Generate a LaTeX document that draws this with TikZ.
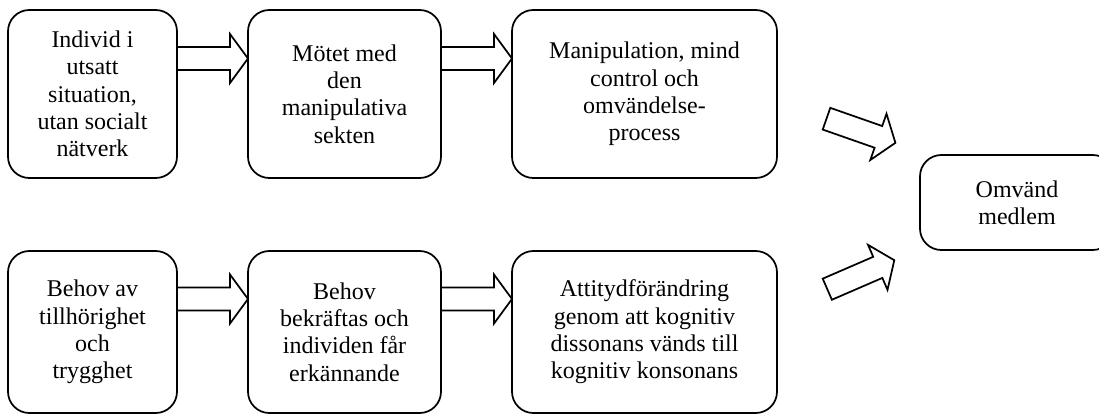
\documentclass[tikz,border=0pt]{standalone}
\usepackage{fontspec}
\setmainfont{Liberation Serif}
\usetikzlibrary{calc}
\tikzset{
  box/.style 2 args={draw, line width=1.3pt, rounded corners=16pt, inner sep=0pt, outer sep=0pt,
    align=center, minimum width=#1*0.75pt, minimum height=#2*0.75pt,
    font=\fontsize{18}{20.5}\selectfont},
  blk/.style={draw, fill=white, line width=1.3pt, line join=miter},
  blkarrow/.pic={\draw[blk] (0,-11.5) -- (55,-11.5) -- (55,-24.5) -- (73,0) -- (55,24.5) -- (55,11.5) -- (0,11.5) -- cycle;}
}
\newcommand\myblkarrow[3]{%
  \draw[blk] ($(#1.east)+(0,#3-11.5)$) -- ($(#2.west)+(-18,#3-11.5)$) -- ($(#2.west)+(-18,#3-24.5)$)
    -- ($(#2.west)+(0,#3)$) -- ($(#2.west)+(-18,#3+24.5)$) -- ($(#2.west)+(-18,#3+11.5)$)
    -- ($(#1.east)+(0,#3+11.5)$) -- cycle;}
\begin{document}
\begin{tikzpicture}[x=0.75pt, y=-0.75pt]
\useasboundingbox (0,0) rectangle (1099,415);
\clip (0,0) rectangle (1099,415);
% top row
\node[box={169}{168}] (b1) at (92.5,94) {Individ i\\utsatt\\situation,\\utan socialt\\nätverk};
\node[box={193}{168}] (b2) at (344.5,94) {Mötet med\\den\\manipulativa\\sekten};
\node[box={265}{168}] (b3) at (644.5,94) {Manipulation, mind\\control och\\omvändelse-\\process};
% bottom row
\node[box={169}{162}] (c1) at (92.5,332) {Behov av\\tillhörighet\\och\\trygghet};
\node[box={193}{162}] (c2) at (344.5,332) {Behov\\bekräftas och\\individen får\\erkännande};
\node[box={265}{162}] (c3) at (644.5,332) {Attitydförändring\\genom att kognitiv\\dissonans vänds till\\kognitiv konsonans};
% result
\node[box={194}{95}] (d) at (1017,202.5) {Omvänd\\medlem};
% horizontal block arrows
\myblkarrow{b1}{b2}{-35.5}
\myblkarrow{b2}{b3}{-35.5}
\myblkarrow{c1}{c2}{-33}
\myblkarrow{c2}{c3}{-33}
% diagonal block arrows
\coordinate (u1) at (826.5,118.7);
\coordinate (u2) at (827.3,289.2);
\path (u1) pic[rotate=-19.3] {blkarrow};
\path (u2) pic[rotate=23.4] {blkarrow};
\end{tikzpicture}
\end{document}
